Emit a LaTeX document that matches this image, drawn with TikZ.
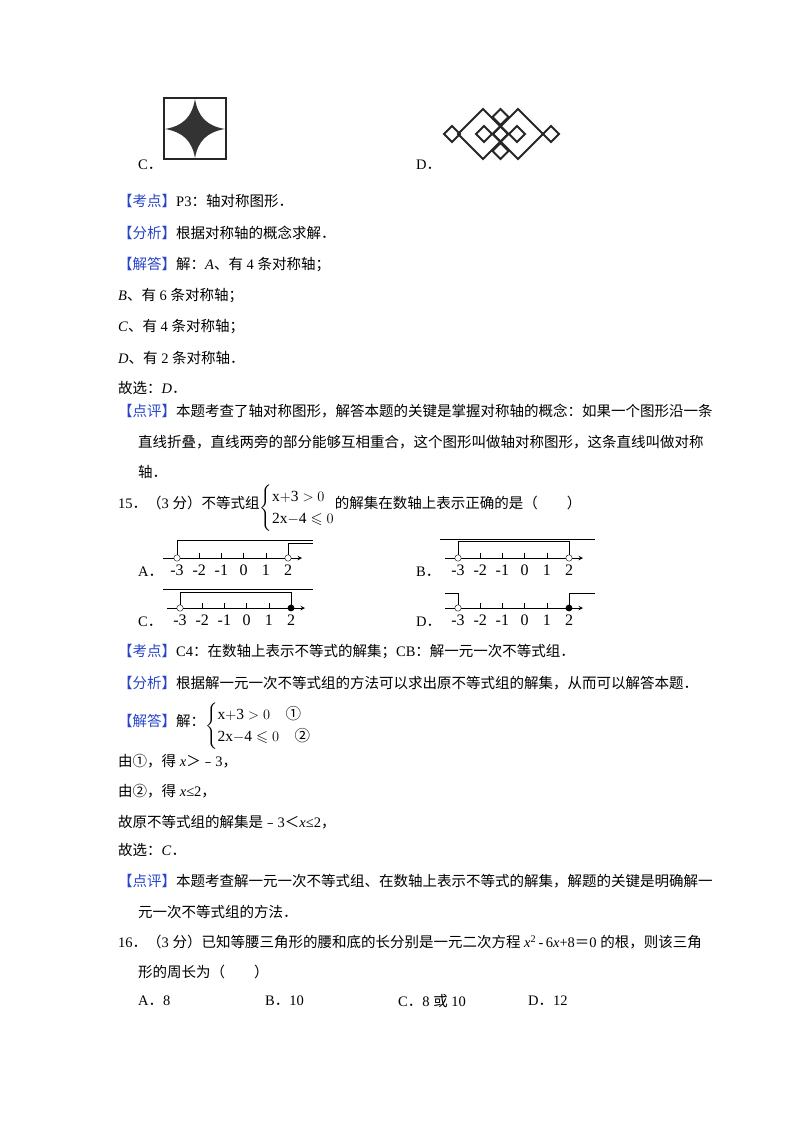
\documentclass[tikz,border=0pt]{standalone}
\usepackage{amssymb}
\usepackage{fontspec}
\setmainfont{Liberation Serif}
\newfontfamily\cjk{Noto Sans CJK SC}
\XeTeXinterchartokenstate=1
\newXeTeXintercharclass\cjkclass
\count255="3000
\loop\ifnum\count255<"A000 \XeTeXcharclass\count255=\cjkclass \advance\count255 by 1 \repeat
\count255="FE30
\loop\ifnum\count255<"FFF0 \XeTeXcharclass\count255=\cjkclass \advance\count255 by 1 \repeat
\count255="2460
\loop\ifnum\count255<"2474 \XeTeXcharclass\count255=\cjkclass \advance\count255 by 1 \repeat
\XeTeXinterchartoks 0 \cjkclass = {\cjk}
\XeTeXinterchartoks 4095 \cjkclass = {\cjk}
\XeTeXinterchartoks \cjkclass 0 = {\rmfamily}
\XeTeXinterchartoks \cjkclass 4095 = {\rmfamily}
\definecolor{kblue}{RGB}{40,70,200}
\newcommand{\tag}[1]{\textcolor{kblue}{【#1】}}
\newcommand{\sys}[2]{\raisebox{-0.5ex}{\fontsize{15.5}{19}\selectfont$\left\{\renewcommand{\arraystretch}{1.15}\begin{array}{@{}l@{}}#1\\ #2\end{array}\right.$}}
\begin{document}
\begin{tikzpicture}[x=1pt,y=-1pt,
  txt/.style={anchor=west,inner sep=0pt,font=\fontsize{14.5}{18}\selectfont},
  lbl/.style={inner sep=0pt,font=\fontsize{16}{18}\selectfont},
  fig/.style={line width=1.8pt,black!85}]
\useasboundingbox[fill=white] (0,0) rectangle (800,1132);
% figure C
\draw[fig] (164,98) rectangle (226,159);
\fill[black!80] (195,99) .. controls (198,117) and (207,126) .. (225,129)
  .. controls (207,132) and (198,141) .. (195,158)
  .. controls (192,141) and (183,132) .. (165,129)
  .. controls (183,126) and (192,117) .. (195,99) -- cycle;
\node[txt] (lc) at (138,165) {C．};
\node[txt] (ld) at (416,165) {D．};
% figure D
\begin{scope}[fig]
\foreach \c in {483,518} \draw (\c-25,134)--(\c,109)--(\c+25,134)--(\c,159)--cycle;
\foreach \c/\d in {452/134,551/134,484/134,500.5/134,517/134,500.5/117,500.5/151}
  \draw (\c-8,\d)--(\c,\d-8)--(\c+8,\d)--(\c,\d+8)--cycle;
\end{scope}
% text block 1
\node[txt] (t1) at (118,201) {\tag{考点}P3：轴对称图形．};
\node[txt] (t2) at (118,233) {\tag{分析}根据对称轴的概念求解．};
\node[txt] (t3) at (118,265) {\tag{解答}解：\textit{A}、有 4 条对称轴；};
\node[txt] (t4) at (118,296) {\textit{B}、有 6 条对称轴；};
\node[txt] (t5) at (118,327) {\textit{C}、有 4 条对称轴；};
\node[txt] (t6) at (118,358) {\textit{D}、有 2 条对称轴．};
\node[txt] (t7) at (118,388) {故选：\textit{D}．};
\node[txt] (t8) at (118,411) {\tag{点评}本题考查了轴对称图形，解答本题的关键是掌握对称轴的概念：如果一个图形沿一条};
\node[txt] (t9) at (138,442) {直线折叠，直线两旁的部分能够互相重合，这个图形叫做轴对称图形，这条直线叫做对称};
\node[txt] (t10) at (138,472) {轴．};
% question 15
\node[txt] (q15) at (118,508) {15．（3 分）不等式组\sys{\mathrm{x{+}3}>0}{\mathrm{2x{-}4}\leqslant 0}的解集在数轴上表示正确的是（\qquad ）};
\node[txt] (oa) at (138,572) {A．};
\node[txt] (ob) at (416,572) {B．};
\node[txt] (oc) at (138,622) {C．};
\node[txt] (od) at (416,622) {D．};
% number lines
\newcommand{\numline}[3]{% x of -3, axis y, axis left
  \draw[line width=1pt,->,>=stealth] (#3,#2) -- (#1+125,#2);
  \foreach \i in {1,...,4} \draw[line width=0.6pt] (#1+\i*22.2,#2) -- (#1+\i*22.2,#2-5);
  \foreach \v [count=\i from 0] in {-3,-2,-1,0,1,2}
    \node[lbl] at (#1+\i*22.2,#2+12) {\v};}
% A
\numline{177}{558}{163}
\draw[line width=1pt] (177,558) -- (177,540) -- (313,540);
\draw[line width=1pt] (288,558) -- (288,543) -- (313,543);
\draw[fill=white] (177,558) circle (3.2); \draw[fill=white] (288,558) circle (3.2);
% B
\numline{458}{558}{445}
\draw[line width=1pt] (440,539) -- (595,539);
\draw[line width=1pt] (458,558) -- (458,541) -- (569,541) -- (569,558);
\draw[fill=white] (458,558) circle (3.2); \draw[fill=white] (569,558) circle (3.2);
% C
\numline{180}{608}{167}
\draw[line width=1pt] (163,589) -- (313,589);
\draw[line width=1pt] (180,608) -- (180,592) -- (291,592) -- (291,608);
\draw[fill=white] (180,608) circle (3.2); \fill (291,608) circle (3.4);
% D
\numline{458}{608}{445}
\draw[line width=1pt] (445,593) -- (458,593) -- (458,608);
\draw[line width=1pt] (569,608) -- (569,593) -- (595,593);
\draw[fill=white] (458,608) circle (3.2); \fill (569,608) circle (3.4);
% text block 2
\node[txt] (s1) at (118,652) {\tag{考点}C4：在数轴上表示不等式的解集；CB：解一元一次不等式组．};
\node[txt] (s2) at (118,683) {\tag{分析}根据解一元一次不等式组的方法可以求出原不等式组的解集，从而可以解答本题．};
\node[txt] (s3) at (118,726) {\tag{解答}解：\sys{\mathrm{x{+}3}>0\quad\mbox{\cjk ①}}{\mathrm{2x{-}4}\leqslant 0\quad\mbox{\cjk ②}}};
\node[txt] (s4) at (118,761) {由①，得 \textit{x}＞﹣3，};
\node[txt] (s5) at (118,791) {由②，得 \textit{x}≤2，};
\node[txt] (s6) at (118,822) {故原不等式组的解集是﹣3＜\textit{x}≤2，};
\node[txt] (s7) at (118,850) {故选：\textit{C}．};
\node[txt] (s8) at (118,881) {\tag{点评}本题考查解一元一次不等式组、在数轴上表示不等式的解集，解题的关键是明确解一};
\node[txt] (s9) at (138,912) {元一次不等式组的方法．};
% question 16
\node[txt] (u1) at (118,942) {16．（3 分）已知等腰三角形的腰和底的长分别是一元二次方程 \textit{x}\textsuperscript{2}\,-\,6\textit{x}+8＝0 的根，则该三角};
\node[txt] (u2) at (138,972) {形的周长为（\qquad ）};
\node[txt] (u3) at (138,1001) {A．8};
\node[txt] (u4) at (265,1001) {B．10};
\node[txt] (u5) at (398,1001) {C．8 或 10};
\node[txt] (u6) at (528,1001) {D．12};
\end{tikzpicture}
\end{document}
